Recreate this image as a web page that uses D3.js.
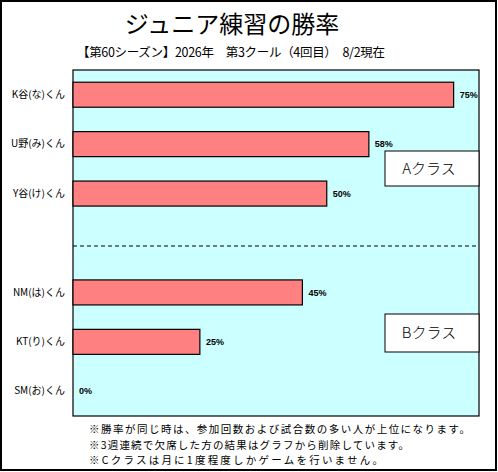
<!DOCTYPE html>
<html lang="ja">
  <head>
    <meta charset="UTF-8" />
    <title>ジュニア練習の勝率</title>
    <script src="https://d3js.org/d3.v7.min.js"></script>
    <style>
      body {
        margin: 0;
        background: #fff;
        font-family: "Noto Sans CJK JP", "Noto Sans", sans-serif;
      }
      svg text {
        fill: #000;
      }
    </style>
  </head>
  <body>
    <div id="chart"></div>
    <script>
      // データ
      const players = ["K谷(な)くん", "U野(み)くん", "Y谷(け)くん", "", "NM(は)くん", "KT(り)くん", "SM(お)くん"];
      const winRates = [0.75, 0.583, 0.5, null, 0.452, 0.25, 0];
      const classLabels = ["Aクラス", "Bクラス"];
      const notes = [
        "※勝率が同じ時は、参加回数および試合数の多い人が上位になります。",
        "※3週連続で欠席した方の結果はグラフから削除しています。",
        "※Cクラスは月に1度程度しかゲームを行いません。",
      ];
      const title = "ジュニア練習の勝率";
      const subtitle = "【第60シーズン】2026年　第3クール（4回目）　8/2現在";

      const W = 498, H = 472;
      const plot = { left: 73, right: 479, top: 70, bottom: 416 };

      const svg = d3.select("#chart").append("svg")
        .attr("width", W).attr("height", H);

      // 外枠
      svg.append("rect")
        .attr("x", 1).attr("y", 1).attr("width", W - 3).attr("height", H - 3)
        .attr("fill", "#fff").attr("stroke", "#000").attr("stroke-width", 2);

      svg.append("text")
        .attr("x", 232).attr("y", 33)
        .attr("text-anchor", "middle")
        .style("font-size", "24px")
        .text(title);

      svg.append("text")
        .attr("x", 77).attr("y", 57)
        .attr("textLength", 308)
        .attr("lengthAdjust", "spacing")
        .style("font-size", "12.5px")
        .text(subtitle);

      const x = d3.scaleLinear().domain([0, 0.8]).range([plot.left, plot.right]);
      const y = d3.scaleBand().domain(players)
        .range([plot.top, plot.bottom])
        .paddingInner(0.494).paddingOuter(0.247);

      // プロットエリア
      svg.append("rect")
        .attr("x", plot.left).attr("y", plot.top)
        .attr("width", plot.right - plot.left).attr("height", plot.bottom - plot.top)
        .attr("fill", "#ccffff").attr("stroke", "#000").attr("stroke-width", 1.2);

      const data = players.map((p, i) => ({ name: p, value: winRates[i] }))
        .filter((d) => d.value !== null);

      svg.selectAll(".bar")
        .data(data.filter((d) => d.value > 0))
        .enter().append("rect")
        .attr("class", "bar")
        .attr("x", x(0))
        .attr("y", (d) => y(d.name))
        .attr("width", (d) => x(d.value) - x(0))
        .attr("height", y.bandwidth())
        .attr("fill", "#ff8080")
        .attr("stroke", "#000")
        .attr("stroke-width", 1.2);

      svg.selectAll(".val")
        .data(data)
        .enter().append("text")
        .attr("class", "val")
        .attr("x", (d) => x(d.value) + 6)
        .attr("y", (d) => y(d.name) + y.bandwidth() / 2)
        .attr("dy", "0.35em")
        .style("font-size", "9px")
        .style("font-family", "'Liberation Sans', Arial, sans-serif")
        .style("font-weight", "bold")
        .text((d) => d3.format(".0%")(d.value));

      // 項目軸
      const axis = svg.append("g")
        .attr("transform", `translate(${plot.left},0)`)
        .call(d3.axisLeft(y).tickSize(0).tickPadding(8));
      axis.select(".domain").remove();
      axis.selectAll("text")
        .style("font-size", "10px")
        .style("font-family", "'Noto Sans CJK JP', sans-serif");

      // クラス区切り線
      const blankMid = y("") + y.bandwidth() / 2 + 3;
      svg.append("line")
        .attr("x1", plot.left).attr("x2", plot.right)
        .attr("y1", blankMid).attr("y2", blankMid)
        .attr("stroke", "#000").attr("stroke-dasharray", "4,3");

      // クラス名ボックス
      const boxes = [
        { label: classLabels[0], top: 151, bottom: 186 },
        { label: classLabels[1], top: 314, bottom: 352 },
      ];
      boxes.forEach((b) => {
        svg.append("rect")
          .attr("x", 385).attr("y", b.top)
          .attr("width", plot.right - 385).attr("height", b.bottom - b.top)
          .attr("fill", "#fff").attr("stroke", "#000").attr("stroke-width", 1);
        svg.append("text")
          .attr("x", 429).attr("y", (b.top + b.bottom) / 2)
          .attr("dy", "0.35em")
          .attr("text-anchor", "middle")
          .style("font-size", "15px")
          .style("font-weight", "300")
          .text(b.label);
      });

      // 注記（行ごとの幅は元画像に合わせる）
      const noteWidths = [381, 320, 294];
      svg.selectAll(".note")
        .data(notes)
        .enter().append("text")
        .attr("class", "note")
        .attr("x", 89)
        .attr("y", (d, i) => 433 + i * 15.5)
        .attr("textLength", (d, i) => noteWidths[i])
        .attr("lengthAdjust", "spacing")
        .style("font-size", "10.5px")
        .text((d) => d);
    </script>
  </body>
</html>
